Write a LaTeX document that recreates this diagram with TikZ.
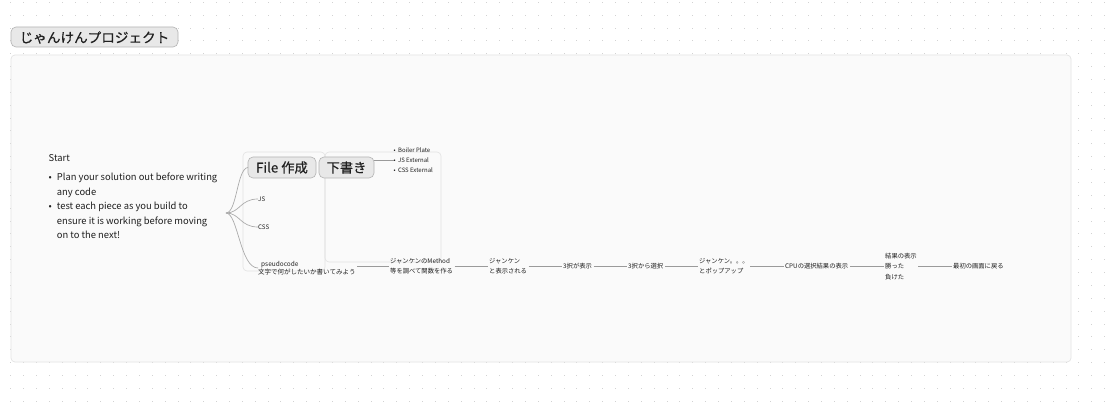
\documentclass[tikz,border=0pt]{standalone}
\usepackage{fontspec}
\setmainfont{Noto Sans CJK JP}
\newfontfamily\jpb[FakeBold=0.5]{Noto Sans CJK JP}
\definecolor{txt}{HTML}{1F1F1F}
\definecolor{linec}{HTML}{9A9A9A}
\definecolor{curvec}{HTML}{ABABAB}
\definecolor{dotc}{HTML}{D2D2D2}
\definecolor{panelfill}{HTML}{FAFAFA}
\definecolor{panelline}{HTML}{E4E4E4}
\definecolor{chipfill}{HTML}{E8E8E8}
\definecolor{chipline}{HTML}{B3B3B3}
\definecolor{framec}{HTML}{E2E2E2}
\begin{document}
\begin{tikzpicture}[x=1pt,y=-1pt,
  lbl/.style={inner sep=0pt, anchor=west, text=txt, align=left, font=\fontsize{6.3}{10}\selectfont},
  conn/.style={draw=linec, line width=0.6pt, shorten <=1.5pt, shorten >=1.5pt},
  branch/.style={draw=curvec, line width=0.7pt},
  chip/.style={draw=chipline, fill=chipfill, rounded corners=5pt, line width=0.6pt},
  frame/.style={draw=framec, rounded corners=4pt, line width=0.6pt}]
\useasboundingbox (0,0) rectangle (1117,409);
\fill[white] (0,0) rectangle (1117,409);
% dot grid
\foreach \i in {0,...,86}{
  \foreach \j in {0,...,31}{
    \fill[dotc] ({10.2+12.87*\i},{1.8+12.87*\j}) rectangle ++(1,1);
  }
}
% panel
\draw[fill=panelfill, draw=panelline, rounded corners=4pt, line width=0.7pt] (11,55) rectangle (1071,362);
% title chip
\draw[chip] (11,27) rectangle (178,47);
\node[inner sep=0pt, text=txt, font=\jpb\fontsize{13.6}{14}\selectfont] (title) at (94.5,37.5) {じゃんけんプロジェクト};
% start text
\node[inner sep=0pt, anchor=west, text=txt, font=\fontsize{9.4}{11}\selectfont] (start) at (48.5,158) {Start};
\node[inner sep=0pt, anchor=north west, text=txt, font=\fontsize{9.4}{14.5}\selectfont] (notes) at (48.5,170.5)
{\begin{tabular}{@{}l@{\hspace{5pt}}l@{}}
•& Plan your solution out before writing\\
 & any code\\
•& test each piece as you build to\\
 & ensure it is working before moving\\
 & on to the next!
\end{tabular}};
% frames
\draw[frame] (243,152) rectangle (325,271);
\draw[frame] (325,152) rectangle (441,262);
% chips
\draw[chip] (248,157) rectangle (316,178);
\node[inner sep=0pt, text=txt, font=\jpb\fontsize{13.3}{14}\selectfont] (fc) at (282,167.5) {File 作成};
\coordinate (fcw) at (248,167.5);
\draw[chip] (319,157) rectangle (374,178);
\node[inner sep=0pt, text=txt, font=\jpb\fontsize{13.3}{14}\selectfont] (dg) at (346.5,167.5) {下書き};
\coordinate (dge) at (374,160);
% bullet list
\node[lbl, font=\fontsize{6}{10}\selectfont] (bl) at (393.5,160)
{• \,Boiler Plate\\• \,JS External\\• \,CSS External};
\draw[draw=linec, line width=0.6pt] (dge) -- (bl.west);
% branch labels
\node[lbl, font=\fontsize{6.2}{8}\selectfont] (js) at (258,199) {JS};
\node[lbl, font=\fontsize{6.2}{8}\selectfont] (css) at (258,227) {CSS};
\node[lbl, font=\fontsize{6.5}{8}\selectfont] (n1) at (258,268) {\hspace{3pt}pseudocode\\文字で何がしたいか書いてみよう};
\coordinate (root) at (226,213);
\draw[branch] (root) .. controls (237,213) and (237,168) .. (fcw);
\draw[branch] (root) .. controls (240,213) and (240,199) .. (js.west);
\draw[branch] (root) .. controls (240,213) and (240,227) .. (css.west);
\draw[branch] (root) .. controls (238,213) and (240,268) .. (n1.west);
% chain
\node[lbl] (n2) at (390,266) {ジャンケンのMethod\\等を調べて関数を作る};
\node[lbl] (n3) at (489,266) {ジャンケン\\と表示される};
\node[lbl] (n4) at (563,266) {3択が表示};
\node[lbl] (n5) at (628,266) {3択から選択};
\node[lbl] (n6) at (699,266) {ジャンケン。。。\\とポップアップ};
\node[lbl] (n7) at (785,266) {CPUの選択結果の表示};
\node[lbl, font=\fontsize{6.3}{10.5}\selectfont] (n8) at (885,266.5) {結果の表示\\勝った\\負けた};
\node[lbl] (n9) at (953,266) {最初の画面に戻る};
\draw[conn] (n2.west -| n1.east) -- (n2.west);
\draw[conn] (n2.east) -- (n3.west);
\draw[conn] (n3.east) -- (n4.west);
\draw[conn] (n4.east) -- (n5.west);
\draw[conn] (n5.east) -- (n6.west);
\draw[conn] (n6.east) -- (n7.west);
\draw[conn] (n7.east) -- (n8.west |- n7.east);
\draw[conn] (n8.east |- n9.west) -- (n9.west);
\end{tikzpicture}
\end{document}
